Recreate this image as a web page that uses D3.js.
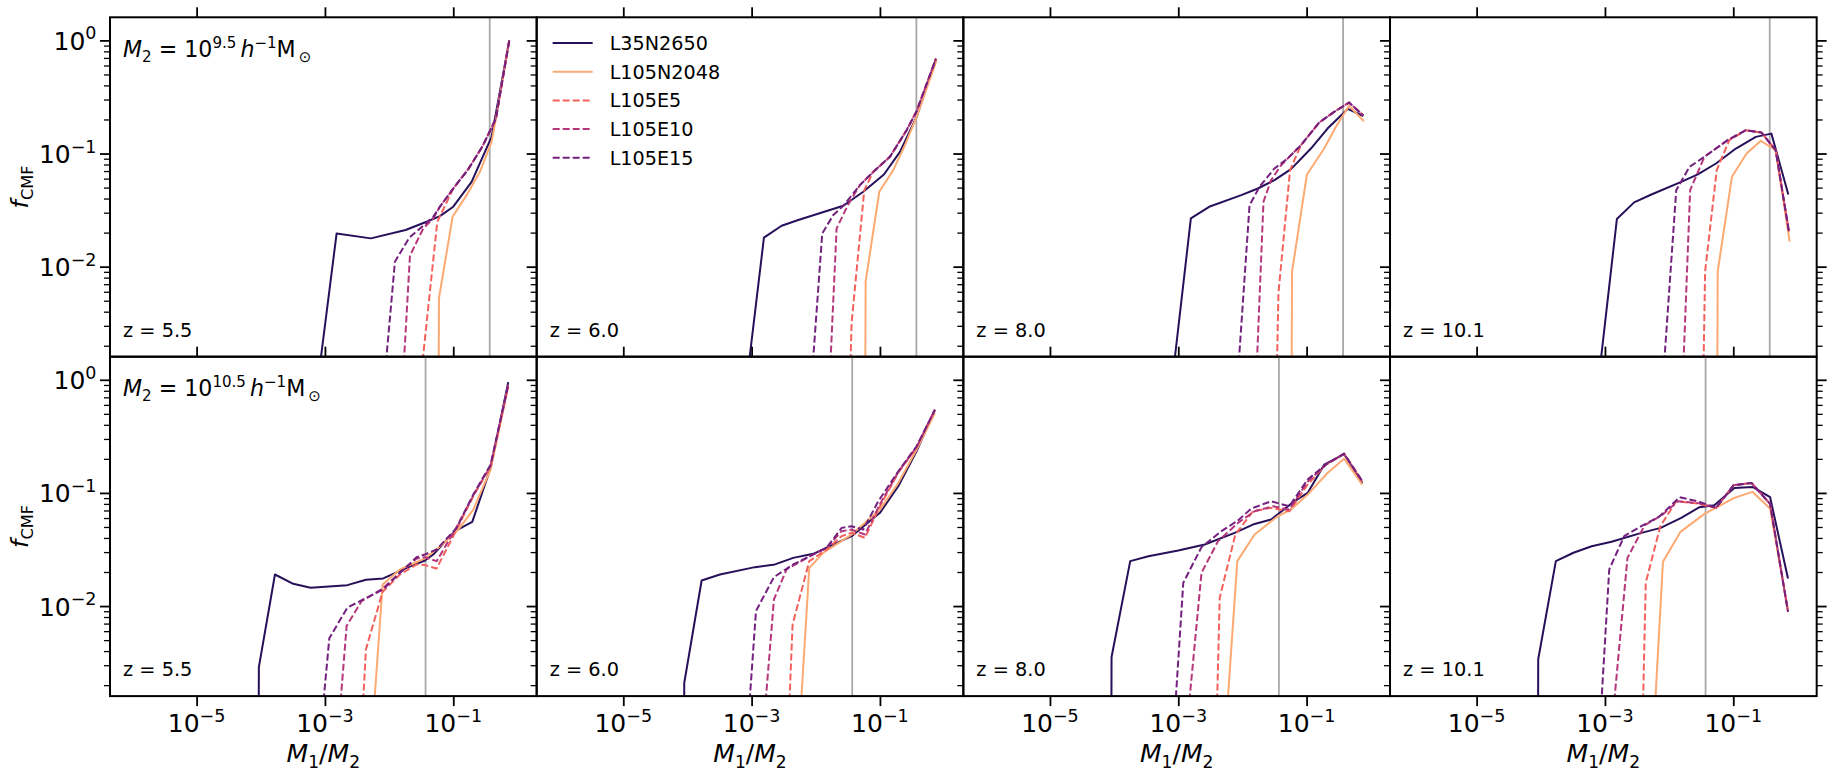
<!DOCTYPE html>
<html>
<head>
<meta charset="utf-8">
<script src="https://cdn.jsdelivr.net/npm/d3@7"></script>
<style>
  body { margin: 0; background: #fff; }
  svg { display: block; font-family: "DejaVu Sans", "Noto Sans", sans-serif; }
</style>
</head>
<body>
<svg id="chart" width="1833" height="780"></svg>
<script>
// simulation names, in plotting order
const sims = ['L35N2650', 'L105N2048', 'L105E5', 'L105E10', 'L105E15'];
const redshifts = ['5.5', '6.0', '8.0', '10.1'];
const hostMassExp = ['9.5', '10.5'];
// vertical reference line (M1/M2) for each row
const refRatio = [0.37, 0.037];
const xTickExp = [-5, -3, -1];
const yTickExp = [-2, -1, 0];

// values, as [log10(M1/M2), log10(f_CMF)]; null = empty bin
const cmf_m95_z55 = [
    [[-3.35, -4.09], [-2.818, -1.706], [-2.283, -1.75], [-1.743, -1.676], [-1.416, -1.603], [-1.208, -1.553], [-1.0, -1.47], [-0.714, -1.25], [-0.403, -0.853], [-0.127, 0.0]],
    [[-1.6, null], [-1.223, -2.279], [-1.01, -1.559], [-0.792, -1.368], [-0.584, -1.162], [-0.403, -0.897], [-0.335, -0.691], [-0.127, 0.0]],
    [[-1.494, -2.92], [-1.249, -1.603], [-1.0, -1.309], [-0.766, -1.138], [-0.543, -0.935], [-0.335, -0.691], [-0.127, 0.0]],
    [[-1.805, -3.2], [-1.675, -1.903], [-1.468, -1.662], [-1.312, -1.574], [-1.208, -1.47], [-1.0, -1.309], [-0.766, -1.138], [-0.543, -0.935], [-0.335, -0.691], [-0.127, 0.0]],
    [[-2.09, -3.11], [-1.909, -1.956], [-1.686, -1.744], [-1.468, -1.638], [-1.312, -1.56], [-1.208, -1.47], [-1.0, -1.309], [-0.766, -1.138], [-0.543, -0.935], [-0.335, -0.691], [-0.127, 0.0]]
];
const cmf_m95_z60 = [
    [[-3.338, -4.26], [-2.808, -1.744], [-2.532, -1.638], [-2.273, -1.588], [-1.571, -1.462], [-1.26, -1.338], [-0.938, -1.185], [-0.688, -0.985], [-0.429, -0.676], [-0.127, -0.168]],
    [[-1.6, null], [-1.223, -2.132], [-1.01, -1.338], [-0.792, -1.147], [-0.61, -0.926], [-0.429, -0.676], [-0.117, -0.176]],
    [[-1.47, -3.1], [-1.442, -2.5], [-1.244, -1.324], [-1.104, -1.162], [-0.844, -1.029], [-0.584, -0.794], [-0.429, -0.626], [-0.127, -0.162]],
    [[-1.8, -3.2], [-1.675, -1.662], [-1.494, -1.45], [-1.312, -1.279], [-1.104, -1.162], [-0.844, -1.029], [-0.584, -0.794], [-0.429, -0.626], [-0.127, -0.162]],
    [[-2.09, -3.2], [-1.899, -1.706], [-1.727, -1.544], [-1.571, -1.462], [-1.312, -1.279], [-1.104, -1.162], [-0.844, -1.029], [-0.584, -0.794], [-0.429, -0.626], [-0.127, -0.162]]
];
const cmf_m95_z80 = [
    [[-3.34, -4.22], [-2.804, -1.574], [-2.519, -1.471], [-2.018, -1.368], [-1.76, -1.309], [-1.501, -1.235], [-1.243, -1.138], [-0.933, -0.956], [-0.674, -0.779], [-0.36, -0.606], [-0.116, -0.668]],
    [[-1.6, null], [-1.227, -2.044], [-0.995, -1.185], [-0.726, -0.956], [-0.545, -0.765], [-0.339, -0.579], [-0.106, -0.715]],
    [[-1.47, -3.1], [-1.439, -2.235], [-1.258, -1.147], [-1.088, -0.926], [-0.804, -0.726], [-0.571, -0.632], [-0.339, -0.55], [-0.116, -0.662]],
    [[-1.8, -3.2], [-1.672, -1.426], [-1.553, -1.235], [-1.398, -1.103], [-1.088, -0.926], [-0.804, -0.726], [-0.571, -0.632], [-0.339, -0.55], [-0.116, -0.662]],
    [[-2.1, -3.2], [-1.889, -1.456], [-1.734, -1.294], [-1.501, -1.132], [-1.295, -1.044], [-1.088, -0.926], [-0.804, -0.726], [-0.571, -0.632], [-0.339, -0.55], [-0.116, -0.662]]
];
const cmf_m95_z101 = [
    [[-3.34, -4.2], [-2.814, -1.579], [-2.545, -1.432], [-2.276, -1.362], [-1.811, -1.25], [-1.553, -1.185], [-1.269, -1.088], [-0.959, -0.956], [-0.649, -0.853], [-0.406, -0.824], [-0.142, -1.362]],
    [[-1.6, null], [-1.243, -2.044], [-1.021, -1.206], [-0.793, -1.0], [-0.571, -0.888], [-0.339, -0.971], [-0.121, -1.779]],
    [[-1.47, -3.1], [-1.439, -2.044], [-1.258, -1.147], [-1.062, -0.882], [-0.804, -0.794], [-0.561, -0.815], [-0.339, -0.971], [-0.132, -1.691]],
    [[-1.8, -3.2], [-1.672, -1.324], [-1.45, -1.029], [-1.088, -0.882], [-0.804, -0.794], [-0.561, -0.815], [-0.339, -0.971], [-0.132, -1.691]],
    [[-2.12, -3.2], [-1.889, -1.324], [-1.682, -1.118], [-1.45, -1.029], [-1.088, -0.882], [-0.804, -0.794], [-0.561, -0.815], [-0.339, -0.971], [-0.132, -1.691]]
];
const cmf_m105_z55 = [
    [[-4.3, null], [-4.03, -2.54], [-3.779, -1.721], [-3.494, -1.803], [-3.223, -1.838], [-2.652, -1.815], [-2.361, -1.768], [-2.091, -1.756], [-1.727, -1.662], [-1.442, -1.597], [-1.312, -1.544], [-0.974, -1.338], [-0.704, -1.256], [-0.418, -0.779], [-0.143, -0.021]],
    [[-2.299, -3.41], [-2.101, -1.809], [-1.831, -1.676], [-1.442, -1.579], [-1.156, -1.45], [-0.922, -1.324], [-0.688, -1.147], [-0.418, -0.794], [-0.143, -0.059]],
    [[-2.429, -3.1], [-2.361, -2.382], [-2.101, -1.874], [-1.831, -1.721], [-1.571, -1.632], [-1.442, -1.638], [-1.26, -1.668], [-0.974, -1.353], [-0.688, -1.029], [-0.418, -0.765], [-0.143, -0.059]],
    [[-2.792, -3.1], [-2.662, -2.176], [-2.429, -1.956], [-2.117, -1.853], [-1.831, -1.706], [-1.571, -1.579], [-1.442, -1.568], [-1.26, -1.603], [-0.974, -1.33], [-0.688, -1.02], [-0.418, -0.76], [-0.143, -0.04]],
    [[-3.05, -3.01], [-2.932, -2.285], [-2.652, -2.015], [-2.403, -1.941], [-2.091, -1.853], [-1.831, -1.706], [-1.571, -1.568], [-1.442, -1.544], [-1.26, -1.5], [-0.948, -1.309], [-0.688, -1.015], [-0.418, -0.75], [-0.143, -0.044]]
];
const cmf_m105_z60 = [
    [[-4.3, null], [-4.05, -2.68], [-3.779, -1.774], [-3.494, -1.721], [-2.948, -1.656], [-2.636, -1.632], [-2.351, -1.574], [-2.039, -1.538], [-1.442, -1.382], [-1.0, -1.176], [-0.714, -0.941], [-0.429, -0.632], [-0.143, -0.265]],
    [[-2.299, -3.51], [-2.101, -1.662], [-1.883, -1.529], [-1.442, -1.368], [-1.0, -1.147], [-0.714, -0.912], [-0.429, -0.618], [-0.143, -0.294]],
    [[-2.429, -3.1], [-2.361, -2.162], [-2.101, -1.603], [-1.831, -1.5], [-1.597, -1.382], [-1.442, -1.353], [-1.234, -1.397], [-1.0, -1.118], [-0.714, -0.82], [-0.429, -0.6], [-0.143, -0.265]],
    [[-2.818, -3.1], [-2.652, -1.941], [-2.455, -1.676], [-2.091, -1.559], [-1.831, -1.485], [-1.597, -1.338], [-1.442, -1.324], [-1.234, -1.368], [-1.0, -1.1], [-0.714, -0.815], [-0.429, -0.595], [-0.143, -0.265]],
    [[-3.052, -3.01], [-2.932, -2.044], [-2.652, -1.744], [-2.351, -1.632], [-2.039, -1.544], [-1.831, -1.485], [-1.597, -1.309], [-1.442, -1.294], [-1.26, -1.324], [-1.026, -1.074], [-0.714, -0.809], [-0.429, -0.588], [-0.143, -0.265]]
];
const cmf_m105_z80 = [
    [[-4.3, null], [-4.04, -2.45], [-3.749, -1.603], [-3.465, -1.559], [-3.0, -1.509], [-2.587, -1.456], [-2.121, -1.353], [-1.811, -1.274], [-1.553, -1.235], [-1.191, -1.074], [-0.984, -1.0], [-0.726, -0.75], [-0.416, -0.656], [-0.132, -0.912]],
    [[-2.276, -3.22], [-2.08, -1.603], [-1.811, -1.368], [-1.45, -1.206], [-1.243, -1.147], [-0.984, -1.015], [-0.674, -0.824], [-0.416, -0.697], [-0.132, -0.926]],
    [[-2.406, -3.1], [-2.354, -1.926], [-2.111, -1.368], [-1.837, -1.162], [-1.553, -1.132], [-1.269, -1.162], [-0.984, -0.926], [-0.7, -0.75], [-0.416, -0.656], [-0.132, -0.897]],
    [[-2.871, -3.1], [-2.638, -1.706], [-2.38, -1.426], [-2.07, -1.265], [-1.811, -1.162], [-1.527, -1.118], [-1.269, -1.147], [-0.984, -0.9], [-0.7, -0.75], [-0.416, -0.653], [-0.132, -0.897]],
    [[-3.078, -3.16], [-2.922, -1.794], [-2.638, -1.479], [-2.328, -1.338], [-2.07, -1.244], [-1.863, -1.138], [-1.553, -1.074], [-1.269, -1.118], [-0.984, -0.882], [-0.7, -0.75], [-0.416, -0.653], [-0.132, -0.897]]
];
const cmf_m105_z101 = [
    [[-4.3, null], [-4.04, -2.47], [-3.765, -1.603], [-3.491, -1.529], [-3.207, -1.471], [-2.897, -1.432], [-2.432, -1.353], [-2.132, -1.309], [-1.811, -1.221], [-1.527, -1.126], [-1.295, -1.109], [-0.984, -0.956], [-0.7, -0.947], [-0.426, -1.038], [-0.147, -1.756]],
    [[-2.25, -3.2], [-2.096, -1.609], [-1.822, -1.344], [-1.45, -1.185], [-0.984, -1.044], [-0.7, -0.991], [-0.426, -1.138], [-0.147, -2.038]],
    [[-2.416, -3.1], [-2.364, -1.794], [-2.137, -1.294], [-1.889, -1.074], [-1.553, -1.094], [-1.269, -1.132], [-0.995, -0.932], [-0.716, -0.912], [-0.426, -1.097], [-0.147, -2.05]],
    [[-2.897, -3.1], [-2.649, -1.574], [-2.38, -1.285], [-2.12, -1.2], [-1.863, -1.074], [-1.553, -1.09], [-1.269, -1.132], [-0.995, -0.932], [-0.716, -0.912], [-0.426, -1.097], [-0.147, -2.05]],
    [[-3.103, -3.31], [-2.933, -1.676], [-2.7, -1.382], [-2.432, -1.294], [-2.147, -1.206], [-1.837, -1.038], [-1.553, -1.074], [-1.269, -1.132], [-0.995, -0.932], [-0.716, -0.912], [-0.426, -1.097], [-0.147, -2.05]]
];

const grid = [
    [cmf_m95_z55, cmf_m95_z60, cmf_m95_z80, cmf_m95_z101],
    [cmf_m105_z55, cmf_m105_z60, cmf_m105_z80, cmf_m105_z101]
];

// line styles per simulation
const simColor = ['#27105a', '#fdaa72', '#f3615c', '#b5367a', '#73207f'];
const simDash = [null, null, '7,3', '7,3', '7,3'];

const panelLeft = 110, panelTop = 17.3, pw = 426.67, ph = 339.4;
const svg = d3.select('#chart');

const x = d3.scaleLog().domain([Math.pow(10, -6.35), Math.pow(10, 0.3)]).range([0, pw]);
const y = d3.scaleLog().domain([1.6e-3, 1.6]).range([ph, 0]);

const yMinor = [];
for (let k = -3; k <= 0; k++) {
    for (let m = 2; m <= 9; m++) {
        let v = m * Math.pow(10, k);
        if (v > 1.6e-3 && v < 1.6) yMinor.push(v);
    }
}
const xMajor = xTickExp.map(e => Math.pow(10, e));
const yMajor = yTickExp.map(e => Math.pow(10, e));

const line = d3.line()
    .x(d => x(Math.pow(10, d[0])))
    .y(d => y(d[1] === null ? 1e-60 : Math.pow(10, d[1])));

// texts grouped by kind, so their size can be matched to the reference widths
const texts = { tick: [], ann: [], zlab: [], legend: [], xlab: [], ylab: [] };

function powText(sel, exp, base, sup) {
    sel.append('tspan').text('10');
    sel.append('tspan')
        .attr('font-size', sup)
        .attr('dy', -base * 0.42)
        .text(String(exp).replace('-', '\u2212'));
}

function styleAxis(g, width) {
    g.select('.domain').remove();
    g.selectAll('.tick line').attr('stroke', '#000').attr('stroke-width', width);
    g.selectAll('.tick text').remove();
}

for (let r = 0; r < 2; r++) {
    for (let c = 0; c < 4; c++) {
        const g = svg.append('g')
            .attr('transform', `translate(${panelLeft + c * pw},${panelTop + r * ph})`);
        const clipId = `clip-${r}-${c}`;
        g.append('clipPath').attr('id', clipId)
            .append('rect').attr('width', pw).attr('height', ph);

        const plot = g.append('g').attr('clip-path', `url(#${clipId})`);

        // resolution reference line
        plot.append('line')
            .attr('x1', x(refRatio[r])).attr('x2', x(refRatio[r]))
            .attr('y1', 0).attr('y2', ph)
            .attr('stroke', '#a8a8a8').attr('stroke-width', 1.8);

        grid[r][c].forEach((pts, i) => {
            plot.append('path')
                .attr('d', line(pts))
                .attr('fill', 'none')
                .attr('stroke', simColor[i])
                .attr('stroke-width', 2)
                .attr('stroke-dasharray', simDash[i])
                .attr('stroke-linejoin', 'round');
        });

        // ticks
        g.append('g').call(d3.axisTop(x).tickValues(xMajor).tickSize(10).tickSizeOuter(0))
            .call(a => styleAxis(a, 1.8));
        g.append('g').call(d3.axisLeft(y).tickValues(yMajor).tickSize(10).tickSizeOuter(0))
            .call(a => styleAxis(a, 1.8));
        g.append('g').call(d3.axisLeft(y).tickValues(yMinor).tickSize(6).tickSizeOuter(0))
            .call(a => styleAxis(a, 1.3));
        if (c === 3) {
            g.append('g').attr('transform', `translate(${pw},0)`)
                .call(d3.axisRight(y).tickValues(yMajor).tickSize(10).tickSizeOuter(0))
                .call(a => styleAxis(a, 1.8));
            g.append('g').attr('transform', `translate(${pw},0)`)
                .call(d3.axisRight(y).tickValues(yMinor).tickSize(6).tickSizeOuter(0))
                .call(a => styleAxis(a, 1.3));
        }
        if (r === 1) {
            g.append('g').attr('transform', `translate(0,${ph})`)
                .call(d3.axisBottom(x).tickValues(xMajor).tickSize(10).tickSizeOuter(0))
                .call(a => styleAxis(a, 1.8));
            xTickExp.forEach(e => {
                const t = g.append('text')
                    .attr('x', x(Math.pow(10, e)))
                    .attr('y', ph + 36)
                    .attr('text-anchor', 'middle')
                    .attr('font-size', 20);
                powText(t, e, 20, 14);
                texts.tick.push(t);
            });
            const xl = g.append('text')
                .attr('x', pw / 2).attr('y', ph + 66)
                .attr('text-anchor', 'middle').attr('font-size', 22);
            xl.append('tspan').attr('font-style', 'italic').text('M');
            xl.append('tspan').attr('font-size', 15).attr('dy', 5).text('1');
            xl.append('tspan').attr('dy', -5).text('/');
            xl.append('tspan').attr('font-style', 'italic').text('M');
            xl.append('tspan').attr('font-size', 15).attr('dy', 5).text('2');
            texts.xlab.push(xl);
        }
        if (c === 0) {
            // order: -1 first so it serves as the size probe
            [-1, -2, 0].forEach(e => {
                const t = g.append('text')
                    .attr('x', -13.5)
                    .attr('y', y(Math.pow(10, e)) + 9.5)
                    .attr('text-anchor', 'end')
                    .attr('font-size', 20);
                powText(t, e, 20, 14);
                texts.tick.unshift(t);
            });
            const yl = g.append('text')
                .attr('transform', `translate(${28 - panelLeft},${ph / 2}) rotate(-90)`)
                .attr('text-anchor', 'middle').attr('font-size', 22);
            yl.append('tspan').attr('font-style', 'italic').text('f');
            yl.append('tspan').attr('font-size', 15).attr('dy', 5).text('CMF');
            texts.ylab.push(yl);

            // host mass annotation
            const ann = g.append('text')
                .attr('x', 13).attr('y', 39.5).attr('font-size', 22);
            ann.append('tspan').attr('font-style', 'italic').text('M');
            ann.append('tspan').attr('font-size', 15).attr('dy', 5).text('2');
            ann.append('tspan').attr('dy', -5).text(' = 10');
            ann.append('tspan').attr('font-size', 15).attr('dy', -9).text(hostMassExp[r]);
            ann.append('tspan').attr('dy', 9).attr('dx', 4).attr('font-style', 'italic').text('h');
            ann.append('tspan').attr('font-size', 15).attr('dy', -9).text('\u22121');
            ann.append('tspan').attr('dy', 9).text('M');
            ann.append('tspan').attr('font-size', 15).attr('dy', 5).attr('dx', 3).text('\u2299');
            texts.ann.push(ann);
        }

        const zt = g.append('text')
            .attr('x', 13).attr('y', ph - 20)
            .attr('font-size', 18)
            .text(`z = ${redshifts[c]}`);
        texts.zlab.push(zt);

        // frame
        g.append('rect')
            .attr('width', pw).attr('height', ph)
            .attr('fill', 'none').attr('stroke', '#000').attr('stroke-width', 2);

        if (r === 0 && c === 1) {
            const leg = g.append('g');
            sims.forEach((s, i) => {
                const ly = 25.7 + i * 28.7;
                leg.append('line')
                    .attr('x1', 16).attr('x2', 56).attr('y1', ly).attr('y2', ly)
                    .attr('stroke', simColor[i]).attr('stroke-width', 2)
                    .attr('stroke-dasharray', simDash[i]);
                const lt = leg.append('text')
                    .attr('x', 73).attr('y', ly).attr('dy', '0.36em')
                    .attr('font-size', 19)
                    .text(s);
                texts.legend.push(lt);
            });
        }
    }
}

// widths (px) of one text of each kind, measured on the reference
const targetWidth = { tick: 51.7, ann: 188.4, zlab: 69.4, legend: 98.3, xlab: 73.5, ylab: 43 };

function scaleText(t, k) {
    t.attr('font-size', +t.attr('font-size') * k);
    t.selectAll('tspan').each(function () {
        const s = d3.select(this);
        ['font-size', 'dy', 'dx'].forEach(a => {
            const v = s.attr(a);
            if (v !== null && !isNaN(+v)) s.attr(a, +v * k);
        });
    });
}

Object.keys(texts).forEach(kind => {
    const list = texts[kind];
    if (!list.length) return;
    const w = list[0].node().getBBox().width;
    if (!(w > 0)) return;
    let k = targetWidth[kind] / w;
    k = Math.max(0.85, Math.min(1.25, k));
    list.forEach(t => scaleText(t, k));
});
</script>
</body>
</html>
